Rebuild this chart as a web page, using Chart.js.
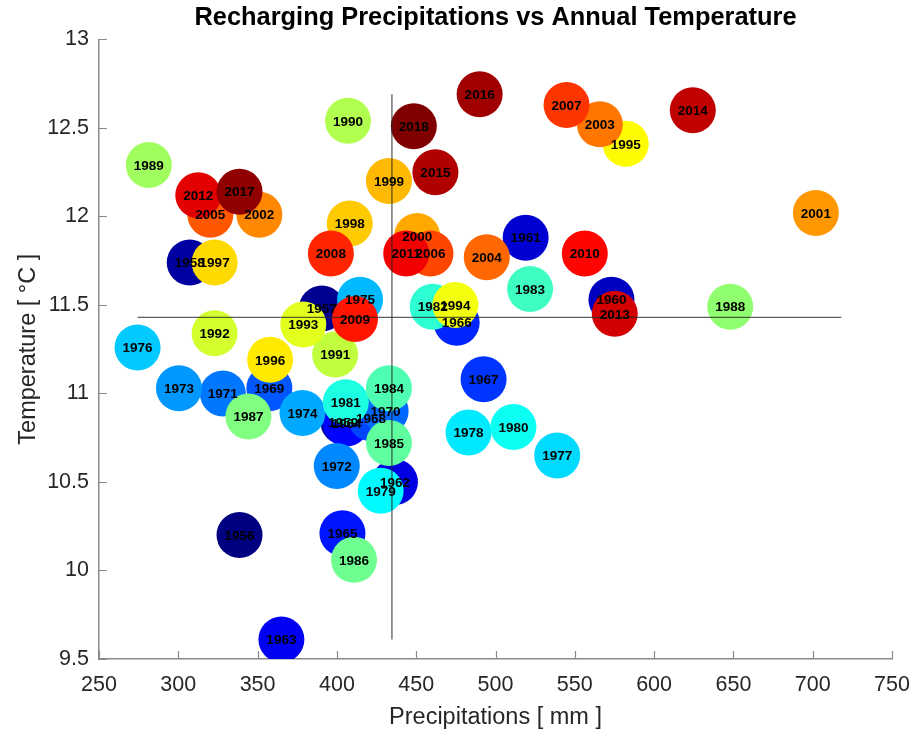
<!DOCTYPE html>
<html>
<head>
<meta charset="utf-8">
<script src="https://cdn.jsdelivr.net/npm/chart.js@4"></script>
<style>
  html, body { margin: 0; padding: 0; background: #fff; }
  #wrap { width: 915px; height: 729px; }
</style>
</head>
<body>
<div id="wrap"><canvas id="chart" width="915" height="729"></canvas></div>
<script>
// ── Données ────────────────────────────────────────────────────────
const years = [
  1956, 1957, 1958, 1959, 1960, 1961, 1962, 1963, 1964, 1965,
  1966, 1967, 1968, 1969, 1970, 1971, 1972, 1973, 1974, 1975,
  1976, 1977, 1978, 1979, 1980, 1981, 1982, 1983, 1984, 1985,
  1986, 1987, 1988, 1989, 1990, 1991, 1992, 1993, 1994, 1995,
  1996, 1997, 1998, 1999, 2000, 2001, 2002, 2003, 2004, 2005,
  2006, 2007, 2008, 2009, 2010, 2011, 2012, 2013, 2014, 2015,
  2016, 2017, 2018
];

const precip = [
  338.6, 390.5, 307.2, 404.0, 573.1, 519.0, 436.6, 365.0, 406.0, 403.5,
  475.5, 492.5, 421.5, 357.4, 430.7, 328.1, 399.9, 300.4, 378.3, 414.6,
  274.3, 538.9, 483.0, 427.6, 511.3, 405.6, 460.4, 521.8, 432.8, 432.8,
  410.8, 344.2, 648.0, 281.4, 407.0, 398.9, 322.9, 378.8, 474.7, 582.1,
  357.9, 322.9, 408.1, 432.8, 450.6, 702.0, 351.1, 565.8, 494.5, 320.2,
  459.0, 544.8, 396.2, 411.4, 556.3, 443.7, 312.6, 575.2, 624.4, 462.1,
  490.0, 338.6, 448.5
];

const temp = [
  10.20, 11.48, 11.74, 10.84, 11.53, 11.88, 10.50, 9.61, 10.83, 10.21,
  11.40, 11.08, 10.86, 11.03, 10.90, 11.00, 10.59, 11.03, 10.89, 11.53,
  11.26, 10.65, 10.78, 10.45, 10.81, 10.95, 11.49, 11.59, 11.03, 10.72,
  10.06, 10.87, 11.49, 12.29, 12.54, 11.22, 11.34, 11.39, 11.50, 12.41,
  11.19, 11.74, 11.96, 12.20, 11.89, 12.02, 12.01, 12.52, 11.77, 12.01,
  11.79, 12.63, 11.79, 11.42, 11.79, 11.79, 12.12, 11.45, 12.60, 12.25,
  12.69, 12.14, 12.51
];

// lignes moyennes (précip. moyenne verticale, température moyenne horizontale)
const meanPrecip = 434.7;
const meanTemp = 11.43;
const hLineX = [274.3, 718.0];
const vLineY = [9.61, 12.69];

const xTicks = [250, 300, 350, 400, 450, 500, 550, 600, 650, 700, 750];
const yTicks = [9.5, 10, 10.5, 11, 11.5, 12, 12.5, 13];

// ── Palette jet (couleur selon l'année) ────────────────────────────
function jet(t) {
  const c = (v) => Math.round(255 * Math.max(0, Math.min(1, v)));
  return `rgb(${c(1.5 - Math.abs(4 * t - 3))},${c(1.5 - Math.abs(4 * t - 2))},${c(1.5 - Math.abs(4 * t - 1))})`;
}
const y0 = years[0], y1 = years[years.length - 1];
const colors = years.map((y) => jet((y - y0) / (y1 - y0)));

const points = years.map((y, i) => ({ x: precip[i], y: temp[i], year: y }));

const FONT = "'Liberation Sans', Arial, Helvetica, sans-serif";
const AXIS_COLOR = "#8a8a8a";
const TEXT_COLOR = "#262626";

// étiquettes d'années par-dessus tous les cercles
const yearLabels = {
  id: "yearLabels",
  afterDatasetsDraw(chart) {
    const { ctx } = chart;
    const meta = chart.getDatasetMeta(0);
    ctx.save();
    ctx.font = `bold 13.5px ${FONT}`;
    ctx.fillStyle = "#000";
    ctx.textAlign = "center";
    ctx.textBaseline = "middle";
    meta.data.forEach((pt, i) => {
      ctx.fillText(String(years[i]), pt.x, pt.y + 1);
    });
    ctx.restore();
  },
};

// graduations vers l'intérieur, façon MATLAB
const innerTicks = {
  id: "innerTicks",
  afterDraw(chart) {
    const { ctx, chartArea, scales } = chart;
    ctx.save();
    ctx.strokeStyle = AXIS_COLOR;
    ctx.lineWidth = 1.2;
    ctx.beginPath();
    xTicks.forEach((v) => {
      const px = Math.round(scales.x.getPixelForValue(v)) + 0.5;
      ctx.moveTo(px, chartArea.bottom);
      ctx.lineTo(px, chartArea.bottom - 8);
    });
    yTicks.forEach((v) => {
      const py = Math.round(scales.y.getPixelForValue(v)) + 0.5;
      ctx.moveTo(chartArea.left, py);
      ctx.lineTo(chartArea.left + 8, py);
    });
    ctx.stroke();
    ctx.restore();
  },
};

new Chart(document.getElementById("chart"), {
  type: "scatter",
  data: {
    datasets: [
      {
        label: "Années",
        data: points,
        backgroundColor: colors,
        borderWidth: 0,
        pointRadius: 23,
        pointHoverRadius: 23,
        order: 2,
      },
      {
        type: "line",
        label: "Température moyenne",
        data: hLineX.map((x) => ({ x, y: meanTemp })),
        borderColor: "rgba(40,40,40,0.75)",
        borderWidth: 1.3,
        pointRadius: 0,
        fill: false,
        order: 1,
      },
      {
        type: "line",
        label: "Précipitation moyenne",
        data: vLineY.map((y) => ({ x: meanPrecip, y })),
        borderColor: "rgba(40,40,40,0.75)",
        borderWidth: 1.3,
        pointRadius: 0,
        fill: false,
        order: 1,
      },
    ],
  },
  options: {
    responsive: false,
    animation: false,
    layout: { padding: { left: 0, right: 14, top: 0, bottom: 0 } },
    plugins: {
      legend: { display: false },
      tooltip: { enabled: false },
      title: {
        display: true,
        text: "Recharging Precipitations vs Annual Temperature",
        fullSize: false,
        color: "#000",
        font: { family: FONT, size: 25.4, weight: "bold", lineHeight: 1 },
        padding: { top: 5, bottom: 9 },
      },
    },
    scales: {
      x: {
        type: "linear",
        min: 250,
        max: 750,
        afterBuildTicks: (s) => { s.ticks = xTicks.map((v) => ({ value: v })); },
        afterFit: (s) => { s.height = 70; s.paddingLeft = 0; s.paddingRight = 0; },
        grid: { display: false, drawTicks: false },
        border: { display: true, color: AXIS_COLOR, width: 1.5 },
        ticks: {
          color: TEXT_COLOR,
          padding: 13,
          font: { family: FONT, size: 21.5 },
          maxRotation: 0,
          autoSkip: false,
        },
        title: {
          display: true,
          text: "Precipitations [ mm ]",
          color: TEXT_COLOR,
          font: { family: FONT, size: 23.5, lineHeight: 1 },
          padding: { top: 0, bottom: 0 },
        },
      },
      y: {
        type: "linear",
        min: 9.5,
        max: 13,
        afterBuildTicks: (s) => { s.ticks = yTicks.map((v) => ({ value: v })); },
        afterFit: (s) => { s.width = 99; },
        grid: { display: false, drawTicks: false },
        border: { display: true, color: AXIS_COLOR, width: 1.5 },
        ticks: {
          color: TEXT_COLOR,
          padding: 10,
          font: { family: FONT, size: 21.5 },
          autoSkip: false,
          callback: (v) => String(v),
        },
        title: {
          display: true,
          text: "Temperature [ °C ]",
          color: TEXT_COLOR,
          font: { family: FONT, size: 23.5, lineHeight: 1 },
          padding: { top: 17, bottom: 0 },
        },
      },
    },
  },
  plugins: [yearLabels, innerTicks],
});
</script>
</body>
</html>
